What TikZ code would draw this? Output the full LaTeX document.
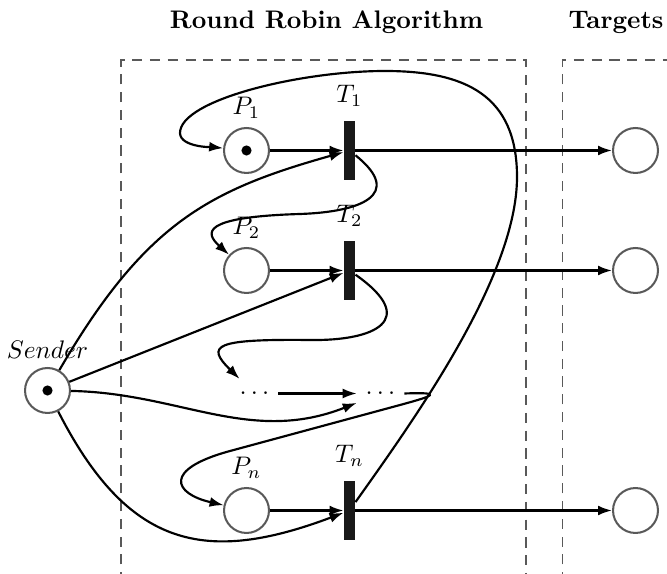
\documentclass[tikz,border=0pt]{standalone}
\usetikzlibrary{arrows.meta}
\begin{document}
\begin{tikzpicture}[x=0.3937pt,y=-0.3937pt,
  place/.style={circle,draw=black!65,line width=0.8pt,minimum size=17.7pt,inner sep=0pt},
  trans/.style={rectangle,fill=black!90,draw=none,minimum width=4.3pt,minimum height=23.2pt,inner sep=0pt},
  token/.style={circle,fill=black,inner sep=0pt,minimum size=4pt},
  arr/.style={-{Latex[length=5.5pt,width=3.9pt]},line width=0.85pt},
  dashbox/.style={draw=black!65,line width=0.5pt,dash pattern=on 4pt off 3pt},
  ttl/.style={font=\bfseries,inner sep=0pt}]
\useasboundingbox (0,0) rectangle (667,574);

% titles
\node[ttl,anchor=base] (title1) at (326.5,29) {Round Robin Algorithm};
\node[ttl,anchor=base west] (title2) at (568,29) {Targets};

% dashed frames
\draw[dashbox] (121,600) -- (121,60) -- (526,60) -- (526,600);
\draw[dashbox] (562.7,600) -- (562.7,60) -- (690,60);

% places
\node[place,label=above:$P_1$] (p1) at (246.5,150.5) {};
\node[token] (k1) at (p1) {};
\node[place,label=above:$P_2$] (p2) at (246.5,270.5) {};
\node[place,label=above:$P_n$] (pn) at (246.5,510.5) {};
\node[place,label=above:$Sender$] (s) at (47.5,390.5) {};
\node[token] (ks) at (s) {};

% transitions
\node[trans,label={[yshift=2pt]above:$T_1$}] (t1) at (349.5,150.5) {};
\node[trans,label={[yshift=2pt]above:$T_2$}] (t2) at (349.5,270.5) {};
\node[trans,label={[yshift=2pt]above:$T_n$}] (tn) at (349.5,510.5) {};

% targets
\node[place] (g1) at (635.5,150.5) {};
\node[place] (g2) at (635.5,270.5) {};
\node[place] (g3) at (635.5,510.5) {};

% dots
\node (d1) at (254.5,393.5) {$\cdots$};
\node (d2) at (380.5,393.5) {$\cdots$};

% straight arcs
\draw[arr] (p1) -- (t1);
\draw[arr] (p2) -- (t2);
\draw[arr] (pn) -- (tn);
\draw[arr] (d1) -- (d2);
\draw[arr] (t1) -- (g1);
\draw[arr] (t2) -- (g2);
\draw[arr] (tn) -- (g3);
\draw[arr] (s) -- (t2);

% sender curves
\draw[arr] (s) .. controls (145,223) and (209,190) .. (t1);
\draw[arr] (s) .. controls (180,393) and (250,445) .. (d2);
\draw[arr] (s) .. controls (128,548) and (205,565) .. (tn);

% T1 -> P2
\draw[arr] (t1) .. controls (405,195) and (360,212) .. (300,214)
  .. controls (200,217) and (205,233) .. (p2);
% T2 -> dots
\draw[arr] (t2) .. controls (420,320) and (375,341) .. (310,340)
  .. controls (215,339) and (205,345) .. (d1);
% dots -> Pn
\draw[arr] (d2.east) .. controls (445,392) and (433,396) .. (400,405)
  -- (230,451) .. controls (162.5,469.3) and (173.4,493.6) .. (pn);
% Tn -> P1
\draw[arr] (tn) .. controls (413,421) and (517,277) .. (517,177)
  .. controls (517,95) and (465,71) .. (385,71)
  .. controls (300,71) and (180,100) .. (180,133)
  .. controls (180,148) and (216.6,147.5) .. (p1);
\end{tikzpicture}
\end{document}
